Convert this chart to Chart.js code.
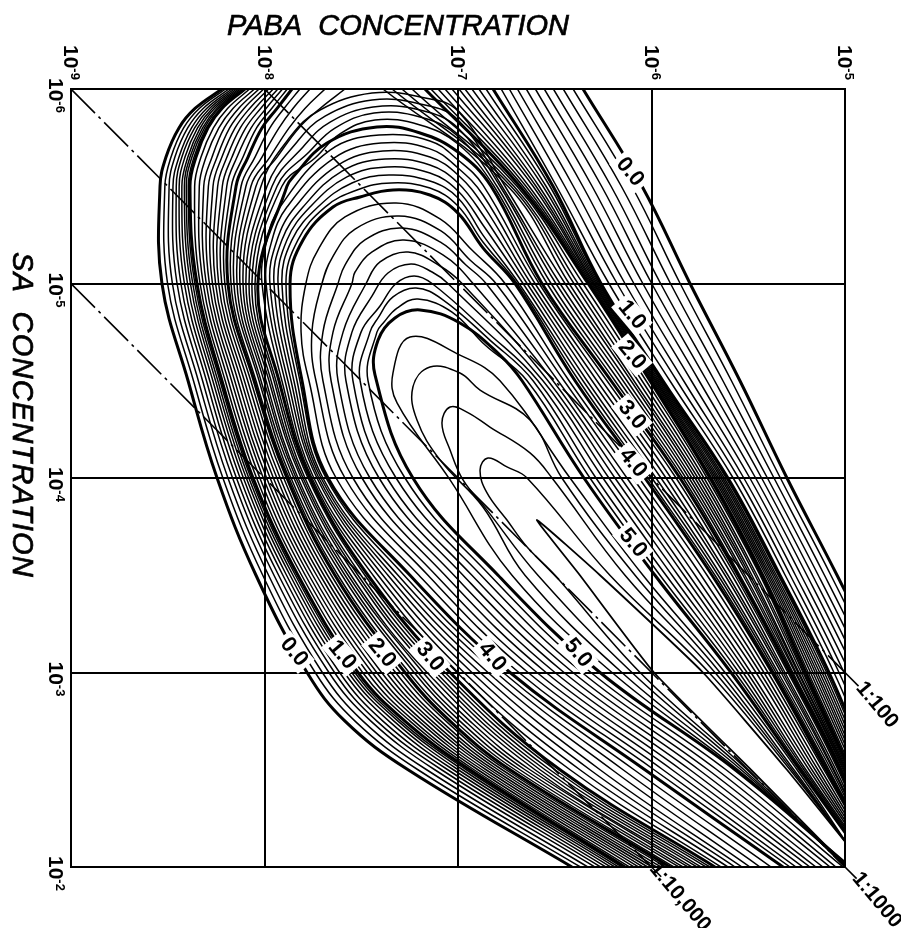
<!DOCTYPE html>
<html>
<head>
<meta charset="utf-8">
<title>PABA / SA contours</title>
<script src="https://cdn.jsdelivr.net/npm/chart.js@4"></script>
<style>
  html, body { margin: 0; padding: 0; background: #fff; }
  canvas { display: block; }
</style>
</head>
<body>
<canvas id="chart" width="901" height="928"></canvas>
<script>
// all values are log10 of the concentration
const pabaTicks = [-9, -8, -7, -6, -5];
const saTicks = [-6, -5, -4, -3, -2];

// SA levels the branches were read at
const leftLevels = [-6, -5.9, -5.8, -5.65, -5.5, -5, -4.5, -4, -3.5, -3, -2.75, -2.5, -2];
const rightLevels = [-6, -5.5, -5, -4.5, -4, -3.5, -3, -2.5];
const arcLevels = [-5.5, -5, -4.5, -4, -3.5, -3, -2.5, -2];
const bandDLeftLevels = [-5.393, -5.224, -5, -4.5, -4, -3.5, -3, -2.5, -2];
const bandDRightLevels = [-5, -4.5, -4, -3.5, -3, -2.5, -2];
const bandELeftLevels = [-4.75, -4.5, -4, -3.5, -3, -2.5, -2];
const bandERightLevels = [-4.5, -4, -3.5, -3, -2.5, -2];

// 0.0 - 0.9, PABA at leftLevels
const bandALeft = [
  [-8.220, -8.359, -8.442, -8.509, -8.540, -8.530, -8.395, -8.245, -8.044, -7.780, -7.584, -7.258, -6.411],
  [-8.201, -8.337, -8.418, -8.483, -8.515, -8.501, -8.367, -8.215, -8.009, -7.738, -7.532, -7.207, -6.367],
  [-8.184, -8.317, -8.397, -8.463, -8.493, -8.476, -8.342, -8.189, -7.979, -7.701, -7.491, -7.162, -6.329],
  [-8.169, -8.299, -8.377, -8.442, -8.473, -8.452, -8.320, -8.165, -7.951, -7.667, -7.450, -7.120, -6.293],
  [-8.156, -8.284, -8.361, -8.427, -8.456, -8.432, -8.300, -8.145, -7.927, -7.638, -7.419, -7.085, -6.263],
  [-8.144, -8.270, -8.346, -8.411, -8.441, -8.414, -8.283, -8.126, -7.905, -7.612, -7.388, -7.053, -6.236],
  [-8.133, -8.258, -8.332, -8.396, -8.427, -8.398, -8.267, -8.109, -7.886, -7.588, -7.357, -7.024, -6.211],
  [-8.124, -8.246, -8.320, -8.385, -8.414, -8.383, -8.253, -8.094, -7.868, -7.567, -7.331, -6.999, -6.189],
  [-8.115, -8.237, -8.310, -8.375, -8.404, -8.371, -8.241, -8.081, -7.853, -7.549, -7.310, -6.976, -6.170],
  [-8.108, -8.228, -8.301, -8.364, -8.394, -8.360, -8.230, -8.070, -7.840, -7.533, -7.295, -6.957, -6.153]
];
const bandARight = [
  [-6.354, -6.049, -5.801, -5.543, -5.300, -5.041, -4.793, -4.560],
  [-6.405, -6.102, -5.852, -5.587, -5.334, -5.073, -4.825, -4.594],
  [-6.456, -6.156, -5.902, -5.631, -5.367, -5.106, -4.857, -4.628],
  [-6.507, -6.209, -5.953, -5.674, -5.401, -5.138, -4.889, -4.662],
  [-6.554, -6.258, -5.999, -5.714, -5.431, -5.168, -4.918, -4.693],
  [-6.600, -6.307, -6.045, -5.754, -5.462, -5.197, -4.947, -4.724],
  [-6.647, -6.355, -6.091, -5.794, -5.492, -5.227, -4.976, -4.755],
  [-6.693, -6.404, -6.137, -5.834, -5.523, -5.256, -5.005, -4.786],
  [-6.735, -6.448, -6.178, -5.869, -5.550, -5.283, -5.031, -4.814],
  [-6.777, -6.491, -6.220, -5.905, -5.578, -5.309, -5.057, -4.842]
];

// 1.0 - 1.9
const bandBLeft = [
  [-8.101, -8.220, -8.292, -8.354, -8.385, -8.349, -8.220, -8.059, -7.827, -7.517, -7.274, -6.938, -6.137],
  [-8.077, -8.191, -8.264, -8.328, -8.361, -8.333, -8.203, -8.041, -7.808, -7.493, -7.248, -6.917, -6.114],
  [-8.052, -8.163, -8.236, -8.302, -8.337, -8.317, -8.187, -8.024, -7.789, -7.468, -7.227, -6.897, -6.090],
  [-8.028, -8.134, -8.208, -8.271, -8.314, -8.301, -8.170, -8.006, -7.770, -7.444, -7.202, -6.876, -6.067],
  [-8.004, -8.106, -8.180, -8.245, -8.290, -8.285, -8.154, -7.989, -7.751, -7.420, -7.181, -6.855, -6.044],
  [-7.979, -8.077, -8.152, -8.220, -8.266, -8.269, -8.137, -7.971, -7.731, -7.395, -7.155, -6.834, -6.020],
  [-7.955, -8.049, -8.125, -8.194, -8.242, -8.253, -8.120, -7.954, -7.712, -7.371, -7.134, -6.814, -5.997],
  [-7.931, -8.020, -8.097, -8.168, -8.218, -8.237, -8.104, -7.936, -7.693, -7.347, -7.109, -6.793, -5.974],
  [-7.907, -7.992, -8.069, -8.142, -8.195, -8.221, -8.087, -7.919, -7.674, -7.323, -7.088, -6.772, -5.951],
  [-7.882, -7.963, -8.041, -8.111, -8.171, -8.205, -8.071, -7.901, -7.655, -7.298, -7.062, -6.752, -5.927]
];
const bandBRight = [
  [-6.819, -6.509, -6.261, -5.941, -5.605, -5.336, -5.083, -4.871],
  [-6.855, -6.525, -6.268, -5.948, -5.614, -5.345, -5.095, -4.881],
  [-6.892, -6.545, -6.274, -5.954, -5.624, -5.355, -5.107, -4.892],
  [-6.928, -6.561, -6.281, -5.961, -5.633, -5.364, -5.119, -4.902],
  [-6.964, -6.581, -6.288, -5.968, -5.642, -5.373, -5.131, -4.912],
  [-6.995, -6.597, -6.295, -5.975, -5.652, -5.383, -5.143, -4.923],
  [-7.031, -6.612, -6.301, -5.981, -5.661, -5.392, -5.154, -4.933],
  [-7.067, -6.633, -6.308, -5.988, -5.670, -5.401, -5.166, -4.943],
  [-7.103, -6.649, -6.315, -5.995, -5.679, -5.410, -5.178, -4.953],
  [-7.140, -6.664, -6.321, -6.001, -5.689, -5.420, -5.190, -4.964]
];

// 2.0 - 2.4 still run off the top edge
const bandCLeft = [
  [-7.858, -7.935, -8.013, -8.085, -8.147, -8.189, -8.054, -7.884, -7.636, -7.274, -7.041, -6.731, -5.904],
  [-7.817, -7.899, -7.972, -8.049, -8.121, -8.173, -8.044, -7.873, -7.620, -7.253, -7.015, -6.705, -5.884],
  [-7.765, -7.853, -7.925, -8.013, -8.096, -8.158, -8.028, -7.863, -7.600, -7.227, -6.990, -6.680, -5.858],
  [-7.687, -7.791, -7.873, -7.972, -8.070, -8.142, -8.018, -7.848, -7.584, -7.207, -6.964, -6.654, -5.837],
  [-7.584, -7.713, -7.822, -7.935, -8.044, -8.127, -8.003, -7.837, -7.568, -7.181, -6.938, -6.628, -5.811]
];
const bandCRight = [
  [-7.171, -6.680, -6.328, -6.008, -5.698, -5.429, -5.202, -4.974],
  [-7.238, -6.695, -6.354, -6.028, -5.713, -5.439, -5.212, -4.979],
  [-7.290, -6.711, -6.380, -6.049, -5.729, -5.455, -5.217, -4.985],
  [-7.341, -6.726, -6.401, -6.070, -5.744, -5.465, -5.227, -4.990],
  [-7.388, -6.742, -6.426, -6.091, -5.760, -5.481, -5.238, -4.995]
];

// 2.5 - 3.0 close inside the frame
const arcCRight = [
  [-6.757, -6.447, -6.106, -5.775, -5.491, -5.243, -5.000, -4.793],
  [-6.773, -6.473, -6.127, -5.791, -5.501, -5.253, -5.005, -4.798],
  [-6.783, -6.494, -6.147, -5.806, -5.517, -5.258, -5.010, -4.804],
  [-6.799, -6.519, -6.168, -5.822, -5.527, -5.269, -5.016, -4.809],
  [-6.814, -6.540, -6.189, -5.837, -5.543, -5.274, -5.021, -4.814],
  [-6.829, -6.566, -6.209, -5.853, -5.553, -5.284, -5.026, -4.819]
];
const arcCTop = [
  [[-7.000, -5.887], [-7.196, -5.959], [-7.444, -5.979], [-7.713, -5.892], [-7.868, -5.753]],
  [[-7.000, -5.841], [-7.196, -5.923], [-7.444, -5.943], [-7.687, -5.861], [-7.832, -5.728]],
  [[-7.000, -5.799], [-7.196, -5.892], [-7.439, -5.907], [-7.661, -5.830], [-7.801, -5.702]],
  [[-7.000, -5.758], [-7.196, -5.856], [-7.434, -5.877], [-7.636, -5.799], [-7.770, -5.676]],
  [[-7.000, -5.717], [-7.196, -5.815], [-7.429, -5.841], [-7.610, -5.769], [-7.739, -5.645]],
  [[-7.000, -5.676], [-7.196, -5.774], [-7.419, -5.805], [-7.677, -5.722], [-7.853, -5.548]]
];
const arcCLeft = [
  [-8.018, -8.111, -7.992, -7.827, -7.553, -7.160, -6.602, -5.791],
  [-7.987, -8.096, -7.977, -7.811, -7.532, -7.134, -6.576, -5.765],
  [-7.961, -8.080, -7.966, -7.801, -7.517, -7.114, -6.550, -5.744],
  [-7.935, -8.065, -7.951, -7.791, -7.501, -7.088, -6.525, -5.718],
  [-7.910, -8.049, -7.941, -7.775, -7.481, -7.067, -6.499, -5.698],
  [-7.884, -8.034, -7.925, -7.765, -7.465, -7.041, -6.473, -5.672]
];

// the lines between 3.0 and 4.0, last row is 4.0
const bandDRight = [
  [-6.581, -6.230, -5.873, -5.568, -5.295, -5.036, -4.820],
  [-6.602, -6.256, -5.899, -5.584, -5.310, -5.047, -4.820],
  [-6.623, -6.282, -5.925, -5.605, -5.320, -5.057, -4.820],
  [-6.643, -6.307, -5.951, -5.620, -5.331, -5.062, -4.820],
  [-6.664, -6.333, -5.977, -5.641, -5.346, -5.072, -4.820],
  [-6.685, -6.354, -5.998, -5.656, -5.357, -5.083, -4.820],
  [-6.695, -6.375, -6.018, -5.672, -5.367, -5.088, -4.820],
  [-6.706, -6.395, -6.034, -5.687, -5.377, -5.098, -4.820]
];
const bandDTop = [
  [[-6.871, -5.506], [-7.000, -5.635], [-7.145, -5.733], [-7.408, -5.763], [-7.661, -5.686]],
  [[-6.871, -5.455], [-7.000, -5.594], [-7.145, -5.692], [-7.398, -5.722], [-7.641, -5.645]],
  [[-6.871, -5.404], [-7.000, -5.558], [-7.145, -5.650], [-7.388, -5.681], [-7.620, -5.609]],
  [[-6.871, -5.352], [-7.000, -5.517], [-7.145, -5.609], [-7.377, -5.640], [-7.599, -5.578]],
  [[-6.871, -5.301], [-7.000, -5.476], [-7.145, -5.568], [-7.367, -5.599], [-7.574, -5.548]],
  [[-6.871, -5.249], [-7.000, -5.440], [-7.145, -5.527], [-7.357, -5.558], [-7.548, -5.517]],
  [[-6.871, -5.213], [-7.000, -5.398], [-7.145, -5.491], [-7.346, -5.517], [-7.522, -5.481]],
  [[-6.871, -5.183], [-7.000, -5.362], [-7.145, -5.455], [-7.336, -5.481], [-7.506, -5.445]]
];
const bandDLeft = [
  [-7.920, -7.987, -8.013, -7.910, -7.755, -7.439, -7.005, -6.421, -5.641],
  [-7.884, -7.961, -7.992, -7.894, -7.745, -7.413, -6.969, -6.370, -5.605],
  [-7.842, -7.935, -7.972, -7.879, -7.729, -7.388, -6.928, -6.318, -5.568],
  [-7.801, -7.910, -7.951, -7.863, -7.719, -7.362, -6.886, -6.266, -5.532],
  [-7.765, -7.884, -7.930, -7.848, -7.708, -7.336, -6.845, -6.204, -5.491],
  [-7.724, -7.858, -7.910, -7.832, -7.698, -7.310, -6.804, -6.147, -5.439],
  [-7.687, -7.827, -7.889, -7.817, -7.682, -7.279, -6.767, -6.090, -5.382],
  [-7.646, -7.801, -7.868, -7.806, -7.672, -7.248, -6.731, -6.034, -5.320]
];

// the lines between 4.0 and 5.0
const bandERight = [
  [-6.426, -6.065, -5.713, -5.398, -5.109, -4.820],
  [-6.452, -6.096, -5.744, -5.419, -5.124, -4.825],
  [-6.483, -6.127, -5.775, -5.439, -5.140, -4.830],
  [-6.509, -6.158, -5.806, -5.460, -5.155, -4.835],
  [-6.535, -6.189, -5.832, -5.486, -5.171, -4.840],
  [-6.561, -6.220, -5.863, -5.506, -5.186, -4.845],
  [-6.587, -6.251, -5.894, -5.527, -5.202, -4.850],
  [-6.612, -6.287, -5.925, -5.548, -5.212, -4.855],
  [-6.643, -6.318, -5.956, -5.568, -5.222, -4.860]
];
const bandETop = [
  [[-6.757, -5], [-6.928, -5.172], [-7.093, -5.332], [-7.320, -5.414], [-7.584, -5.342], [-7.724, -5.172], [-7.786, -5]],
  [[-6.804, -5], [-6.938, -5.121], [-7.088, -5.270], [-7.305, -5.347], [-7.532, -5.280], [-7.651, -5.131], [-7.703, -5]],
  [[-6.855, -5], [-6.959, -5.095], [-7.083, -5.208], [-7.289, -5.285], [-7.481, -5.224], [-7.584, -5.095], [-7.620, -5]],
  [[-6.922, -5], [-7.078, -5.147], [-7.279, -5.224], [-7.444, -5.162], [-7.532, -5.059], [-7.548, -5]],
  [[-6.979, -5], [-7.093, -5.090], [-7.258, -5.162], [-7.403, -5.111], [-7.475, -5]],
  [[-7.052, -5], [-7.134, -5.059], [-7.243, -5.100], [-7.362, -5.054], [-7.444, -4.936]],
  [[-6.850, -4.751], [-7.134, -5], [-7.227, -5.039], [-7.320, -5], [-7.403, -4.884]],
  [[-6.835, -4.709], [-7.083, -4.920], [-7.217, -4.977], [-7.336, -4.931], [-7.413, -4.823]],
  [[-6.860, -4.684], [-7.031, -4.853], [-7.207, -4.920], [-7.315, -4.874], [-7.382, -4.802]]
];
const bandELeft = [
  [-7.811, -7.770, -7.630, -7.202, -6.685, -5.987, -5.284],
  [-7.755, -7.734, -7.584, -7.155, -6.638, -5.941, -5.253],
  [-7.698, -7.698, -7.543, -7.114, -6.592, -5.894, -5.217],
  [-7.646, -7.656, -7.496, -7.067, -6.545, -5.848, -5.181],
  [-7.594, -7.620, -7.455, -7.021, -6.499, -5.801, -5.150],
  [-7.548, -7.579, -7.408, -6.974, -6.452, -5.755, -5.114],
  [-7.501, -7.543, -7.367, -6.928, -6.406, -5.708, -5.077],
  [-7.455, -7.506, -7.320, -6.881, -6.359, -5.662, -5.047],
  [-7.419, -7.465, -7.274, -6.835, -6.313, -5.615, -5.010]
];

// 5.0 and the closed lines round the peak, [PABA, SA] along each line
const contour50 = [[-4.871, -2], [-5.233, -2.5], [-5.589, -3], [-5.982, -3.5], [-6.349, -4], [-6.669, -4.5], [-6.783, -4.632], [-6.990, -4.797], [-7.196, -4.864], [-7.326, -4.823], [-7.413, -4.709], [-7.429, -4.530], [-7.233, -4], [-6.793, -3.5], [-6.266, -3], [-5.568, -2.5], [-4.974, -2]];
const peak1 = [[-4.974, -2.098], [-5.248, -2.5], [-5.620, -3], [-6.044, -3.5], [-6.421, -4], [-6.783, -4.5], [-6.990, -4.632], [-7.248, -4.725], [-7.336, -4.540], [-7.315, -4.386], [-7.041, -3.990], [-6.721, -3.5], [-6.204, -3], [-5.553, -2.5], [-4.974, -2]];
const peak2 = [[-4.974, -2.098], [-5.264, -2.5], [-5.646, -3], [-6.085, -3.5], [-6.463, -4], [-6.628, -4.298], [-6.886, -4.452], [-6.990, -4.540], [-7.145, -4.571], [-7.233, -4.468], [-7.212, -4.298], [-7.093, -4.093], [-6.871, -3.851], [-6.654, -3.5], [-6.153, -3], [-5.537, -2.5], [-4.985, -2]];
const peak3 = [[-4.974, -2.098], [-5.274, -2.5], [-5.672, -3], [-6.137, -3.5], [-6.514, -4], [-6.628, -4.129], [-6.835, -4.262], [-6.954, -4.339], [-7.041, -4.365], [-7.083, -4.283], [-7.041, -4.144], [-6.974, -3.990], [-6.850, -3.835], [-6.587, -3.5], [-6.101, -3], [-5.522, -2.5], [-4.995, -2]];
const peak4 = [[-4.974, -2.098], [-5.284, -2.5], [-5.703, -3], [-6.215, -3.5], [-6.643, -4], [-6.747, -4.057], [-6.845, -4.103], [-6.886, -4.041], [-6.850, -3.923], [-6.747, -3.784], [-6.643, -3.645], [-6.499, -3.5], [-6.059, -3], [-5.506, -2.5], [-5.000, -2]];
const peak5 = [[-4.974, -2.098], [-5.300, -2.5], [-5.734, -3], [-6.266, -3.5], [-6.592, -3.784], [-6.370, -3.5], [-5.987, -3], [-5.486, -2.5], [-5.000, -2.010]];

// PABA : SA ratio lines
const ratio100 = [[-8, -6], [-5, -3]];
const ratio1000 = [[-9, -6], [-5, -2]];
const ratio10000 = [[-9, -5], [-6, -2]];
const ratioStubs = [
  [[-5, -3], [-4.93, -2.93]],
  [[-5, -2], [-4.94, -1.94]],
  [[-6, -2], [-5.95, -1.95]]
];

// level labels sitting on the heavy lines
const levelText = ['0.0', '1.0', '2.0', '3.0', '4.0', '5.0', '0.0', '1.0', '2.0', '3.0', '4.0', '5.0'];
const levelPaba = [-6.111, -6.101, -6.101, -6.101, -6.096, -6.096, -7.848, -7.599, -7.393, -7.145, -6.824, -6.380];
const levelSa = [-5.573, -4.838, -4.632, -4.324, -4.077, -3.666, -3.105, -3.090, -3.100, -3.080, -3.080, -3.100];
const ratioText = ['1:100', '1:1000', '1:10,000'];
const ratioPaba = [-4.835, -4.835, -5.853];
const ratioSa = [-2.833, -1.830, -1.846];

const THIN = 1.5;
const HEAVY = 3;

const toPoints = (pairs) => pairs.map(([x, y]) => ({ x, y }));
const zipLevels = (vals, levels) => vals.map((x, i) => ({ x, y: levels[i] }));

const line = (data, width, extra) => Object.assign({
  data,
  showLine: true,
  borderColor: '#000',
  borderWidth: width,
  pointRadius: 0,
  tension: 0.4,
  capBezierPoints: false
}, extra);

// closed arc: up the right side, over the top, down the left side
const arc = (right, rightLv, top, left, leftLv) => [
  ...zipLevels(right, rightLv).reverse(),
  ...toPoints(top),
  ...zipLevels(left, leftLv)
];

const datasets = [];

[[bandALeft, bandARight], [bandBLeft, bandBRight], [bandCLeft, bandCRight]].forEach(([lefts, rights]) => {
  lefts.forEach((row, i) => {
    const w = i === 0 ? HEAVY : THIN;
    datasets.push(line(zipLevels(row, leftLevels), w));
    datasets.push(line(zipLevels(rights[i], rightLevels), w));
  });
});

arcCRight.forEach((row, i) => {
  const w = i === arcCRight.length - 1 ? HEAVY : THIN;
  datasets.push(line(arc(row, arcLevels, arcCTop[i], arcCLeft[i], arcLevels), w));
});
bandDRight.forEach((row, i) => {
  const w = i === bandDRight.length - 1 ? HEAVY : THIN;
  datasets.push(line(arc(row, bandDRightLevels, bandDTop[i], bandDLeft[i], bandDLeftLevels), w));
});
bandERight.forEach((row, i) => {
  datasets.push(line(arc(row, bandERightLevels, bandETop[i], bandELeft[i], bandELeftLevels), THIN));
});
datasets.push(line(toPoints(contour50), HEAVY));
[peak1, peak2, peak3, peak4].forEach((p) => datasets.push(line(toPoints(p), THIN)));
datasets.push(line(toPoints(peak5), 1.8, { tension: 0.15 }));

[ratio100, ratio1000, ratio10000].forEach((r) => {
  datasets.push(line(toPoints(r), 1.6, { tension: 0, borderDash: [34, 5, 3, 5] }));
});
ratioStubs.forEach((r) => {
  datasets.push(line(toPoints(r), 1.6, { tension: 0, clip: false }));
});

// tick labels, titles and level labels are all turned like the print
const drawPower = (ctx, exp, x, y) => {
  ctx.save();
  ctx.translate(x, y);
  ctx.rotate(Math.PI / 2);
  ctx.textAlign = 'left';
  ctx.textBaseline = 'alphabetic';
  ctx.font = 'bold 21px "Liberation Sans"';
  ctx.fillText('10', 0, 7);
  const w = ctx.measureText('10').width;
  ctx.font = 'bold 13px "Liberation Sans"';
  ctx.fillText(String(exp), w, 0);
  ctx.restore();
};

const turnedLabel = (ctx, text, x, y, font, halo) => {
  ctx.save();
  ctx.translate(x, y);
  ctx.rotate(Math.PI * 50 / 180);
  ctx.font = font;
  ctx.textAlign = 'center';
  ctx.textBaseline = 'middle';
  if (halo) {
    const w = ctx.measureText(text).width + 8;
    ctx.fillStyle = '#fff';
    ctx.fillRect(-w / 2, -11, w, 22);
    ctx.fillStyle = '#000';
  }
  ctx.fillText(text, 0, 0);
  ctx.restore();
};

const printedText = {
  id: 'printedText',
  afterDatasetsDraw(chart) {
    const { ctx, scales: { x, y } } = chart;
    ctx.save();
    ctx.fillStyle = '#000';
    ctx.strokeStyle = '#000';

    levelText.forEach((t, i) => {
      turnedLabel(ctx, t, x.getPixelForValue(levelPaba[i]), y.getPixelForValue(levelSa[i]), 'bold 22px "Liberation Sans"', true);
    });
    ratioText.forEach((t, i) => {
      turnedLabel(ctx, t, x.getPixelForValue(ratioPaba[i]), y.getPixelForValue(ratioSa[i]), 'bold 21px "Liberation Sans"', false);
    });

    pabaTicks.forEach((v) => drawPower(ctx, v, x.getPixelForValue(v), 45));
    saTicks.forEach((v) => drawPower(ctx, v, 56, y.getPixelForValue(v) - 11));

    ctx.font = 'italic 29px "Liberation Sans"';
    ctx.textAlign = 'center';
    ctx.textBaseline = 'alphabetic';
    ctx.lineWidth = 0.7;
    ctx.fillText('PABA  CONCENTRATION', 398, 35);
    ctx.strokeText('PABA  CONCENTRATION', 398, 35);

    ctx.translate(13, 415);
    ctx.rotate(Math.PI / 2);
    ctx.letterSpacing = '1.2px';
    ctx.fillText('SA  CONCENTRATION', 0, 0);
    ctx.strokeText('SA  CONCENTRATION', 0, 0);
    ctx.restore();
  }
};

const gridAxis = (min, max, position, reverse) => ({
  type: 'linear',
  position,
  min,
  max,
  reverse,
  ticks: { display: false, stepSize: 1 },
  border: { display: true, color: '#000', width: 2 },
  grid: { color: '#000', lineWidth: 2, drawTicks: false }
});

new Chart(document.getElementById('chart'), {
  type: 'scatter',
  data: { datasets },
  plugins: [printedText],
  options: {
    responsive: false,
    animation: false,
    layout: { padding: { left: 71, top: 89, right: 56, bottom: 61 } },
    plugins: { legend: { display: false }, tooltip: { enabled: false } },
    scales: {
      x: gridAxis(-9, -5, 'top', false),
      y: gridAxis(-6, -2, 'left', true)
    }
  }
});
</script>
</body>
</html>
